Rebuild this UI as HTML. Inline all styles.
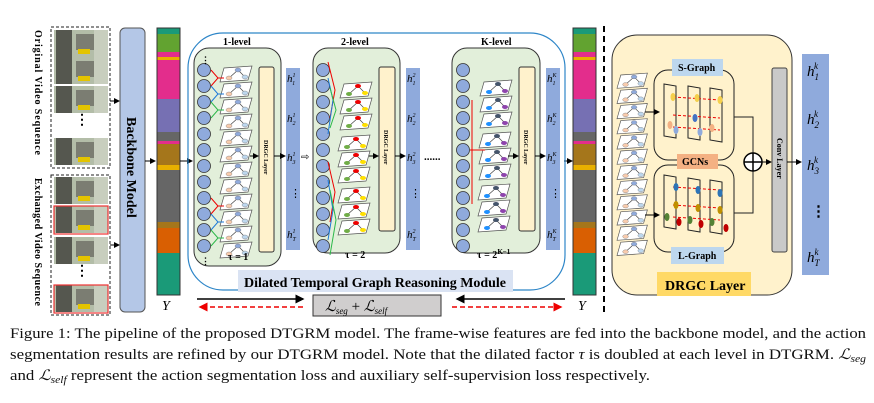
<!DOCTYPE html>
<html><head><meta charset="utf-8"><style>
body{margin:0;background:#fff;width:874px;height:403px;overflow:hidden}
svg{display:block}
.s{font-family:"Liberation Serif",serif}
</style></head><body>
<svg width="874" height="403" viewBox="0 0 874 403" xmlns="http://www.w3.org/2000/svg">
<defs>
<marker id="ar" markerWidth="6" markerHeight="6" refX="5" refY="3" orient="auto"><path d="M0,0 L6,3 L0,6 Z" fill="#000"/></marker>
<marker id="arr" markerWidth="6" markerHeight="6" refX="5" refY="3" orient="auto"><path d="M0,0 L6,3 L0,6 Z" fill="#e00"/></marker>
<g id="thumb"><rect x="0" y="0" width="54" height="27" fill="#b3bda8"/><rect x="2" y="0" width="16" height="27" fill="#55574f"/><rect x="22" y="4" width="18" height="16" fill="#7b7d72"/><rect x="24" y="19" width="12" height="5" fill="#e3c400"/><rect x="40" y="0" width="14" height="27" fill="#c8cebe"/></g>
<g id="col"><circle cx="0" cy="0" r="6.5"/><circle cx="0" cy="16" r="6.5"/><circle cx="0" cy="32" r="6.5"/><circle cx="0" cy="48" r="6.5"/><circle cx="0" cy="64" r="6.5"/><circle cx="0" cy="80" r="6.5"/><circle cx="0" cy="96" r="6.5"/><circle cx="0" cy="112" r="6.5"/><circle cx="0" cy="128" r="6.5"/><circle cx="0" cy="144" r="6.5"/><circle cx="0" cy="160" r="6.5"/><circle cx="0" cy="176" r="6.5"/></g>
<g id="c1"><path d="M0,14 L4,0 L32,-2 L28,12 Z" fill="#fff" stroke="#555" stroke-width="0.7"/><path d="M9,10 L18,2 L25,9" stroke="#444" fill="none" stroke-width="0.7"/><ellipse cx="9" cy="10" rx="3" ry="2" fill="#f8cbad" stroke="#777" stroke-width="0.4"/><ellipse cx="18" cy="2" rx="3" ry="2" fill="#8faadc" stroke="#777" stroke-width="0.4"/><ellipse cx="25" cy="9" rx="3" ry="2" fill="#bdd7ee" stroke="#777" stroke-width="0.4"/></g>
<g id="c2"><path d="M0,14 L4,0 L32,-2 L28,12 Z" fill="#fff" stroke="#555" stroke-width="0.7"/><path d="M9,10 L18,2 L25,9" stroke="#444" fill="none" stroke-width="0.7"/><ellipse cx="9" cy="10" rx="3" ry="2" fill="#70ad47"/><ellipse cx="18" cy="2" rx="3" ry="2" fill="#e00"/><ellipse cx="25" cy="9" rx="3" ry="2" fill="#ffe000"/></g>
<g id="c3"><path d="M0,14 L4,0 L32,-2 L28,12 Z" fill="#fff" stroke="#555" stroke-width="0.7"/><path d="M9,10 L18,2 L25,9" stroke="#444" fill="none" stroke-width="0.7"/><ellipse cx="9" cy="10" rx="3" ry="2" fill="#1e90ff"/><ellipse cx="18" cy="2" rx="3" ry="2" fill="#44546a"/><ellipse cx="25" cy="9" rx="3" ry="2" fill="#8e44ad"/></g>
<g id="st1"><use href="#c1" y="0"/><use href="#c1" y="16"/><use href="#c1" y="32"/><use href="#c1" y="48"/><use href="#c1" y="64"/><use href="#c1" y="80"/><use href="#c1" y="96"/><use href="#c1" y="112"/><use href="#c1" y="128"/><use href="#c1" y="144"/><use href="#c1" y="160"/><use href="#c1" y="176"/></g>
</defs>

<rect x="51" y="27" width="59" height="141" fill="none" stroke="#222" stroke-dasharray="3,2"/>
<rect x="51" y="175" width="59" height="140" fill="none" stroke="#222" stroke-dasharray="3,2"/>
<use href="#thumb" x="54" y="30"/><use href="#thumb" x="54" y="57"/><use href="#thumb" x="54" y="86"/><use href="#thumb" x="54" y="138"/>
<text x="75" y="124" class="s" font-size="14" font-weight="bold">⋮</text>
<use href="#thumb" x="54" y="177"/><use href="#thumb" x="54" y="206"/><use href="#thumb" x="54" y="237"/><use href="#thumb" x="54" y="285"/>
<rect x="54" y="206" width="54" height="28" fill="none" stroke="#e33" stroke-width="1.2"/>
<rect x="54" y="285" width="54" height="28" fill="none" stroke="#e33" stroke-width="1.2"/>
<text x="75" y="275" class="s" font-size="14" font-weight="bold">⋮</text>
<text class="s" font-size="10" font-weight="bold" transform="translate(35,30) rotate(90)" textLength="125">Original Video Sequence</text>
<text class="s" font-size="10" font-weight="bold" transform="translate(35,178) rotate(90)" textLength="128">Exchanged Video Sequence</text>
<line x1="110" y1="101" x2="119" y2="101" stroke="#000" marker-end="url(#ar)"/>
<line x1="110" y1="245" x2="119" y2="245" stroke="#000" marker-end="url(#ar)"/>

<rect x="120" y="28" width="25" height="284" rx="5" fill="#b4c7e7" stroke="#555"/>
<text class="s" font-size="14" font-weight="bold" transform="translate(127,117) rotate(90)">Backbone Model</text>
<line x1="145" y1="161" x2="155" y2="161" stroke="#000" marker-end="url(#ar)"/>

<g id="ybar">
<rect x="157" y="28" width="23" height="6" fill="#1a9a78"/>
<rect x="157" y="34" width="23" height="18" fill="#62a330"/>
<rect x="157" y="52" width="23" height="5" fill="#e32d8c"/>
<rect x="157" y="57" width="23" height="3" fill="#e8b000"/>
<rect x="157" y="60" width="23" height="39" fill="#e32d8c"/>
<rect x="157" y="99" width="23" height="33" fill="#7670b3"/>
<rect x="157" y="132" width="23" height="11" fill="#666"/>
<rect x="157" y="141" width="23" height="3" fill="#e32d8c"/>
<rect x="157" y="144" width="23" height="21" fill="#a5761b"/>
<rect x="157" y="165" width="23" height="5" fill="#e8b000"/>
<rect x="157" y="170" width="23" height="52" fill="#666"/>
<rect x="157" y="222" width="23" height="6" fill="#a5761b"/>
<rect x="157" y="228" width="23" height="25" fill="#d95f02"/>
<rect x="157" y="253" width="23" height="42" fill="#1a9a78"/>
<rect x="157" y="28" width="23" height="267" fill="none" stroke="#333"/>
</g>
<use href="#ybar" x="416"/>
<text x="162" y="310" class="s" font-size="14" font-style="italic">Y</text>
<text x="578" y="310" class="s" font-size="14" font-style="italic">Y</text>
<line x1="180" y1="161" x2="192" y2="161" stroke="#000" marker-end="url(#ar)"/>
<line x1="564" y1="161" x2="572" y2="161" stroke="#000" marker-end="url(#ar)"/>
<line x1="604" y1="26" x2="604" y2="312" stroke="#000" stroke-width="2" stroke-dasharray="6,4"/>

<rect x="188" y="33" width="377" height="257" rx="35" fill="none" stroke="#2e86c8" stroke-width="1.2"/>
<text x="223" y="45" class="s" font-size="10" font-weight="bold">1-level</text>
<rect x="194" y="48" width="87" height="218" rx="15" fill="#e2efda" stroke="#333"/>
<use href="#col" x="204" y="70" fill="#8faadc" stroke="#333" stroke-width="0.8"/>
<use href="#st1" x="220" y="68"/>
<g stroke-width="1" fill="none"><path d="M211,70 L218,78 L211,86 M218,78 L224,78" stroke="#e00"/><path d="M211,86 L218,94 L211,102 M218,94 L224,94" stroke="#1e7ad8"/><path d="M211,102 L218,110 L211,118 M218,110 L224,110" stroke="#2db84a"/><path d="M211,198 L218,206 L211,214 M218,206 L224,206" stroke="#e00"/><path d="M211,214 L218,222 L211,230 M218,222 L224,222" stroke="#1e7ad8"/><path d="M211,230 L218,238 L211,246 M218,238 L224,238" stroke="#2db84a"/></g>
<rect x="259" y="67" width="15" height="185" rx="2" fill="#fff2cc" stroke="#333"/>
<text class="s" font-size="6" font-weight="bold" transform="translate(264,140) rotate(90)">DRGC Layer</text>
<text x="228" y="260" class="s" font-size="10" font-weight="bold">τ = 1</text>
<text x="201" y="63" font-size="9" font-weight="bold">⋮</text><text x="201" y="264" font-size="9" font-weight="bold">⋮</text>
<line x1="250" y1="156" x2="258" y2="156" stroke="#000" marker-end="url(#ar)"/>
<line x1="274" y1="156" x2="285" y2="156" stroke="#000" marker-end="url(#ar)"/>
<g class="s" font-size="11" font-style="italic">
<rect x="286" y="68" width="14" height="182" fill="#8faadc"/>
<text x="287" y="82">h<tspan font-size="6" dy="-5">1</tspan><tspan font-size="6" dx="-3" dy="8">1</tspan></text>
<text x="287" y="122">h<tspan font-size="6" dy="-5">1</tspan><tspan font-size="6" dx="-3" dy="8">2</tspan></text>
<text x="287" y="161">h<tspan font-size="6" dy="-5">1</tspan><tspan font-size="6" dx="-3" dy="8">3</tspan></text>
<text x="290" y="197" font-style="normal">⋮</text>
<text x="287" y="238">h<tspan font-size="6" dy="-5">1</tspan><tspan font-size="6" dx="-3" dy="8">T</tspan></text>
</g>
<text x="301" y="160" font-size="10">⇨</text>
<text x="341" y="45" class="s" font-size="10" font-weight="bold">2-level</text>
<rect x="313" y="48" width="87" height="205" rx="15" fill="#e2efda" stroke="#333"/>
<use href="#col" x="323" y="70" fill="#8faadc" stroke="#333" stroke-width="0.8"/>
<g><use href="#c2" x="340" y="84"/><use href="#c2" x="340" y="100"/><use href="#c2" x="340" y="116"/><use href="#c2" x="338" y="137"/><use href="#c2" x="338" y="153"/><use href="#c2" x="338" y="169"/><use href="#c2" x="338" y="189"/><use href="#c2" x="338" y="205"/><use href="#c2" x="338" y="221"/></g>
<g stroke-width="1" fill="none"><path d="M328,62 L335,90 L330,118" stroke="#e00"/><path d="M328,78 L333,100 L328,134" stroke="#1e7ad8"/><path d="M330,88 L336,110 L330,128" stroke="#2db84a"/><path d="M328,162 L335,192 L330,222" stroke="#e00"/><path d="M328,180 L333,210 L328,240" stroke="#1e7ad8"/><path d="M330,190 L336,220 L330,255" stroke="#2db84a"/></g>
<rect x="379" y="67" width="16" height="164" rx="2" fill="#fff2cc" stroke="#333"/>
<text class="s" font-size="6" font-weight="bold" transform="translate(384,130) rotate(90)">DRGC Layer</text>
<text x="345" y="258" class="s" font-size="10" font-weight="bold">τ = 2</text>
<line x1="369" y1="156" x2="378" y2="156" stroke="#000" marker-end="url(#ar)"/>
<line x1="395" y1="156" x2="405" y2="156" stroke="#000" marker-end="url(#ar)"/>
<g class="s" font-size="11" font-style="italic">
<rect x="406" y="68" width="14" height="182" fill="#8faadc"/>
<text x="407" y="82">h<tspan font-size="6" dy="-5">2</tspan><tspan font-size="6" dx="-3" dy="8">1</tspan></text>
<text x="407" y="122">h<tspan font-size="6" dy="-5">2</tspan><tspan font-size="6" dx="-3" dy="8">2</tspan></text>
<text x="407" y="161">h<tspan font-size="6" dy="-5">2</tspan><tspan font-size="6" dx="-3" dy="8">3</tspan></text>
<text x="410" y="197" font-style="normal">⋮</text>
<text x="407" y="238">h<tspan font-size="6" dy="-5">2</tspan><tspan font-size="6" dx="-3" dy="8">T</tspan></text>
</g>
<text x="424" y="160" class="s" font-size="11" font-weight="bold">......</text>
<text x="481" y="45" class="s" font-size="10" font-weight="bold">K-level</text>
<rect x="452" y="48" width="88" height="205" rx="15" fill="#e2efda" stroke="#333"/>
<use href="#col" x="463" y="70" fill="#8faadc" stroke="#333" stroke-width="0.8"/>
<g><use href="#c3" x="480" y="82"/><use href="#c3" x="480" y="98"/><use href="#c3" x="480" y="114"/><use href="#c3" x="479" y="134"/><use href="#c3" x="479" y="150"/><use href="#c3" x="479" y="166"/><use href="#c3" x="478" y="186"/><use href="#c3" x="478" y="202"/><use href="#c3" x="478" y="218"/></g>
<path d="M472,100 L472,204 M470,150 L485,150" stroke="#e00" fill="none"/>
<rect x="519" y="67" width="16" height="164" rx="2" fill="#fff2cc" stroke="#333"/>
<text class="s" font-size="6" font-weight="bold" transform="translate(524,130) rotate(90)">DRGC Layer</text>
<text x="477" y="258" class="s" font-size="10" font-weight="bold">τ = 2<tspan font-size="7" dy="-4">K−1</tspan></text>
<line x1="508" y1="156" x2="518" y2="156" stroke="#000" marker-end="url(#ar)"/>
<line x1="535" y1="156" x2="545" y2="156" stroke="#000" marker-end="url(#ar)"/>
<g class="s" font-size="11" font-style="italic">
<rect x="546" y="68" width="14" height="182" fill="#8faadc"/>
<text x="547" y="82">h<tspan font-size="6" dy="-5">K</tspan><tspan font-size="6" dx="-4" dy="8">1</tspan></text>
<text x="547" y="122">h<tspan font-size="6" dy="-5">K</tspan><tspan font-size="6" dx="-4" dy="8">2</tspan></text>
<text x="547" y="161">h<tspan font-size="6" dy="-5">K</tspan><tspan font-size="6" dx="-4" dy="8">3</tspan></text>
<text x="550" y="197" font-style="normal">⋮</text>
<text x="547" y="238">h<tspan font-size="6" dy="-5">K</tspan><tspan font-size="6" dx="-4" dy="8">T</tspan></text>
</g>
<rect x="238" y="270" width="275" height="22" fill="#dae3f3"/>
<text x="244" y="287" class="s" font-size="14" font-weight="bold" textLength="262">Dilated Temporal Graph Reasoning Module</text>

<line x1="197" y1="299" x2="303" y2="299" stroke="#000" stroke-width="1.5" marker-end="url(#ar)"/>
<line x1="303" y1="307" x2="200" y2="307" stroke="#e00" stroke-width="1.5" stroke-dasharray="5,3" marker-end="url(#arr)"/>
<line x1="565" y1="299" x2="457" y2="299" stroke="#000" stroke-width="1.5" marker-end="url(#ar)"/>
<line x1="452" y1="307" x2="561" y2="307" stroke="#e00" stroke-width="1.5" stroke-dasharray="5,3" marker-end="url(#arr)"/>
<rect x="313" y="295" width="128" height="21" fill="#d0cece" stroke="#333"/>
<text x="325" y="311" class="s" font-size="15" font-style="italic">ℒ<tspan font-size="9" dy="3">seg</tspan><tspan dy="-3" font-style="normal"> + </tspan>ℒ<tspan font-size="9" dy="3">self</tspan></text>

<rect x="612" y="35" width="180" height="260" rx="25" fill="#fff2cc" stroke="#333"/>
<g transform="translate(617,75) scale(0.95)"><use href="#st1"/></g>
<rect x="654" y="70" width="80" height="90" rx="14" fill="#fff2cc" stroke="#222"/>
<rect x="654" y="165" width="80" height="87" rx="14" fill="#fff2cc" stroke="#222"/>
<line x1="645" y1="112" x2="659" y2="112" stroke="#000" marker-end="url(#ar)"/>
<line x1="645" y1="215" x2="659" y2="215" stroke="#000" marker-end="url(#ar)"/>
<g fill="none" stroke="#222"><path d="M664,84 L676,86 L676,138 L664,136 Z M688,86 L700,88 L700,140 L688,138 Z M710,88 L722,90 L722,142 L710,140 Z"/><path d="M664,175 L676,177 L676,229 L664,227 Z M688,178 L700,180 L700,232 L688,230 Z M710,180 L722,182 L722,234 L710,232 Z"/></g>
<g stroke="#e00" stroke-dasharray="3,2"><line x1="673" y1="97" x2="720" y2="100"/><line x1="673" y1="115" x2="720" y2="118"/><line x1="673" y1="127" x2="720" y2="130"/><line x1="673" y1="187" x2="720" y2="190"/><line x1="673" y1="205" x2="720" y2="208"/><line x1="673" y1="217" x2="720" y2="220"/></g>
<g><ellipse cx="673" cy="97" rx="2.5" ry="4" fill="#f5d04c"/><ellipse cx="697" cy="98" rx="2.5" ry="4" fill="#f5d04c"/><ellipse cx="720" cy="100" rx="2.5" ry="4" fill="#f5d04c"/><ellipse cx="670" cy="125" rx="2.5" ry="4" fill="#f4b183"/><ellipse cx="695" cy="118" rx="2.5" ry="4" fill="#4472c4"/><ellipse cx="712" cy="128" rx="2.5" ry="4" fill="#f4b183"/><ellipse cx="676" cy="130" rx="2.5" ry="4" fill="#8faadc"/><ellipse cx="700" cy="132" rx="2.5" ry="4" fill="#8faadc"/>
<ellipse cx="676" cy="187" rx="2.5" ry="4" fill="#2e75b6"/><ellipse cx="698" cy="190" rx="2.5" ry="4" fill="#2e75b6"/><ellipse cx="720" cy="193" rx="2.5" ry="4" fill="#2e75b6"/><ellipse cx="676" cy="205" rx="2.5" ry="4" fill="#bf9000"/><ellipse cx="698" cy="208" rx="2.5" ry="4" fill="#bf9000"/><ellipse cx="720" cy="210" rx="2.5" ry="4" fill="#bf9000"/><ellipse cx="667" cy="217" rx="2.5" ry="4" fill="#548235"/><ellipse cx="690" cy="220" rx="2.5" ry="4" fill="#548235"/><ellipse cx="712" cy="222" rx="2.5" ry="4" fill="#548235"/><ellipse cx="679" cy="222" rx="2.5" ry="4" fill="#c00000"/><ellipse cx="701" cy="224" rx="2.5" ry="4" fill="#c00000"/><ellipse cx="726" cy="228" rx="2.5" ry="4" fill="#c00000"/></g>
<rect x="672" y="59" width="51" height="17" fill="#bdd7ee"/>
<text x="678" y="71" class="s" font-size="10" font-weight="bold">S-Graph</text>
<rect x="677" y="154" width="41" height="15" fill="#f4b183"/>
<text x="682" y="165" class="s" font-size="10" font-weight="bold">GCNs</text>
<rect x="671" y="247" width="53" height="17" fill="#bdd7ee"/>
<text x="678" y="259" class="s" font-size="10" font-weight="bold">L-Graph</text>
<path d="M734,117 L753,117 L753,213 L734,213" fill="none" stroke="#222"/>
<circle cx="753" cy="162" r="9" fill="#fff" stroke="#000" stroke-width="1.5"/>
<path d="M744,162 L762,162 M753,153 L753,171" stroke="#000" stroke-width="1.5"/>
<line x1="762" y1="162" x2="771" y2="162" stroke="#000" marker-end="url(#ar)"/>
<rect x="772" y="68" width="15" height="184" rx="2" fill="#c9c9c9" stroke="#444"/>
<text class="s" font-size="8" font-weight="bold" transform="translate(777,138) rotate(90)">Conv Layer</text>
<line x1="787" y1="162" x2="801" y2="162" stroke="#000" marker-end="url(#ar)"/>
<rect x="657" y="272" width="94" height="24" fill="#ffd966"/>
<text x="665" y="290" class="s" font-size="14" font-weight="bold">DRGC Layer</text>
<g class="s" font-size="15" font-style="italic">
<rect x="802" y="54" width="27" height="221" fill="#8faadc"/>
<text x="807" y="76">h<tspan font-size="9" dy="4">1</tspan><tspan font-size="9" dx="-5" dy="-11">k</tspan></text>
<text x="807" y="124">h<tspan font-size="9" dy="4">2</tspan><tspan font-size="9" dx="-5" dy="-11">k</tspan></text>
<text x="807" y="170">h<tspan font-size="9" dy="4">3</tspan><tspan font-size="9" dx="-5" dy="-11">k</tspan></text>
<text x="811" y="216" font-style="normal" font-weight="bold">⋮</text>
<text x="807" y="262">h<tspan font-size="9" dy="4">T</tspan><tspan font-size="9" dx="-5" dy="-11">k</tspan></text>
</g>

<g class="s" font-size="14.5" fill="#111">
<text x="10" y="338" textLength="856" lengthAdjust="spacingAndGlyphs">Figure 1: The pipeline of the proposed DTGRM model. The frame-wise features are fed into the backbone model, and the action</text>
<text x="10" y="359" textLength="856" lengthAdjust="spacingAndGlyphs">segmentation results are refined by our DTGRM model. Note that the dilated factor <tspan font-style="italic">τ</tspan> is doubled at each level in DTGRM. <tspan font-style="italic">ℒ</tspan><tspan font-size="10" font-style="italic" dy="3">seg</tspan></text>
<text x="10" y="380" textLength="640" lengthAdjust="spacingAndGlyphs">and <tspan font-style="italic">ℒ</tspan><tspan font-size="10" font-style="italic" dy="3">self</tspan><tspan dy="-3"> represent the action segmentation loss and auxiliary self-supervision loss respectively.</tspan></text>
</g>
</svg>
</body></html>
